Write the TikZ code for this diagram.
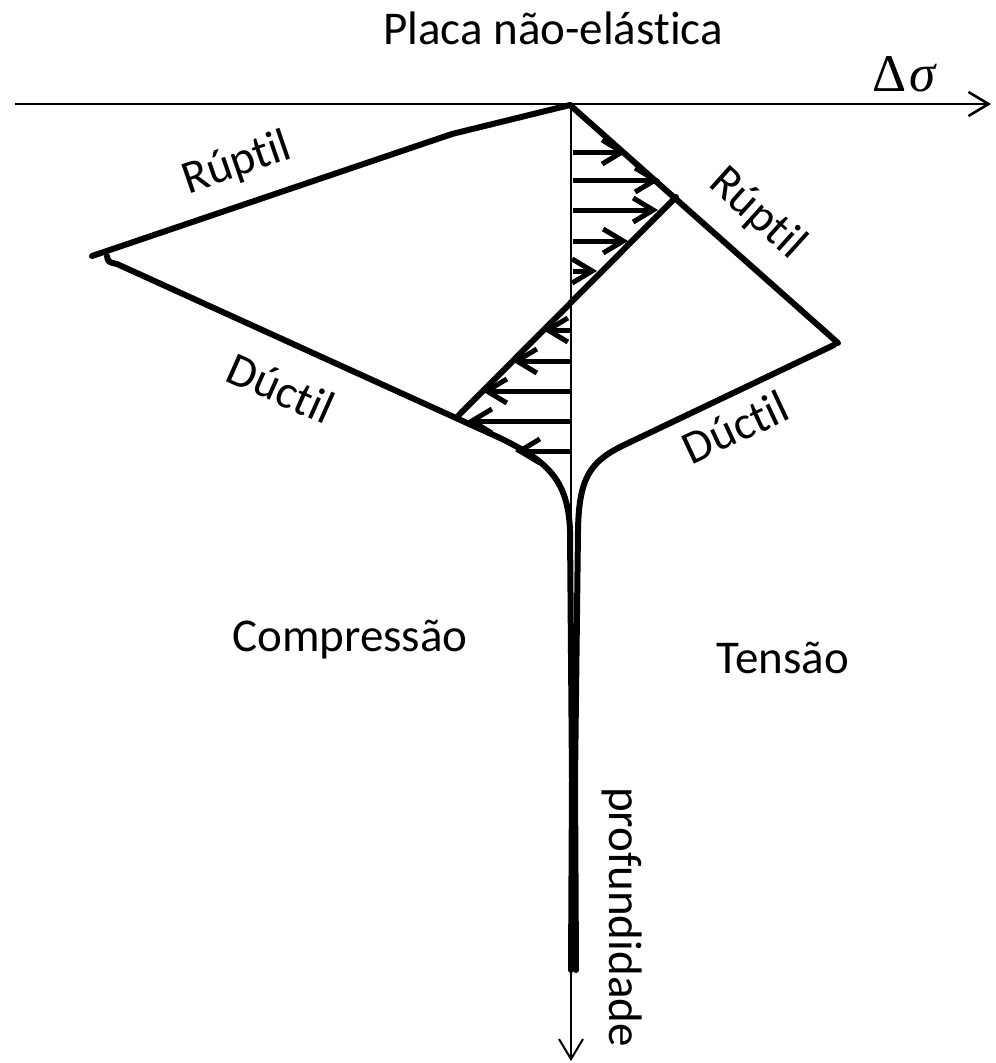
\documentclass[tikz,border=0pt]{standalone}
\usepackage{fontspec}
\setmainfont{Carlito}
\newfontfamily\gregofont{Liberation Serif}
\usetikzlibrary{arrows.meta}
\tikzset{grossa/.style={line width=6pt,line cap=round,line join=round}}
\tikzset{eixo/.style={line width=2.6pt,-{Straight Barb[length=20pt,width=24pt]}}}
\tikzset{seta/.style={line width=5pt,-{Straight Barb[length=20pt,width=24pt]}}}
\tikzset{rotulo/.style={font=\fontsize{47}{56}\selectfont,inner sep=0pt}}

\begin{document}
\begin{tikzpicture}[x=1pt,y=-1pt]
    \useasboundingbox (0,0) rectangle (996,1063);
    % eixos
    \coordinate (esq) at (15,104);
    \coordinate (dir) at (991,104);
    \coordinate (topo) at (571,104);
    \coordinate (fundo) at (571,1061);
    \draw [eixo] (esq) -- (dir);
    \draw [eixo,line width=2pt] (topo) -- (fundo);
    \node [font=\fontsize{53}{62}\selectfont\gregofont] (dsig) at (905,74) {Δ\kern3pt\textit{σ}};
    \node [rotulo] (titulo) at (553,28) {Placa não-elást\kern0pt ica};
    % envoltoria de compressao
    \draw [grossa] (570,105) -- (452,134) -- (92,256);
    \draw [grossa] (107,256) .. controls (108,262) .. (117,264)
        -- (500,438) .. controls (545,460) and (568,478) .. (570,530)
        -- (572,780) -- (571,970);
    % envoltoria de tensao
    \draw [grossa] (570,105) -- (838,343);
    \draw [grossa] (834,345) -- (622,446) .. controls (590,462) and (579,478) .. (578,530)
        -- (575,780) -- (576,970);
    % perfil de tensao
    \draw [grossa] (457,417) -- (676,197);
    \foreach \y/\x in {152/627,180/660,210/658,241/628,271/597}
        \draw [seta] (573,\y) -- (\x,\y);
    \foreach \y/\x in {330/543,361/512,391/482,421/467,451/515}
        \draw [seta] (571,\y) -- (\x,\y);
    % rotulos
    \node [rotulo,rotate=19] (rup1) at (237,164) {Rúpt\kern0pt il};
    \node [rotulo,rotate=-42] (rup2) at (757,214) {Rúpt\kern0pt il};
    \node [rotulo,rotate=-24] (duc1) at (281,388) {Dúct\kern0pt il};
    \node [rotulo,rotate=25] (duc2) at (735,427) {Dúct\kern0pt il};
    \node [rotulo] (comp) at (350,640) {Compressão};
    \node [rotulo] (tens) at (783,658) {Tensão};
    \node [rotulo,rotate=-90] (prof) at (622,917) {profundidade};
\end{tikzpicture}
\end{document}
